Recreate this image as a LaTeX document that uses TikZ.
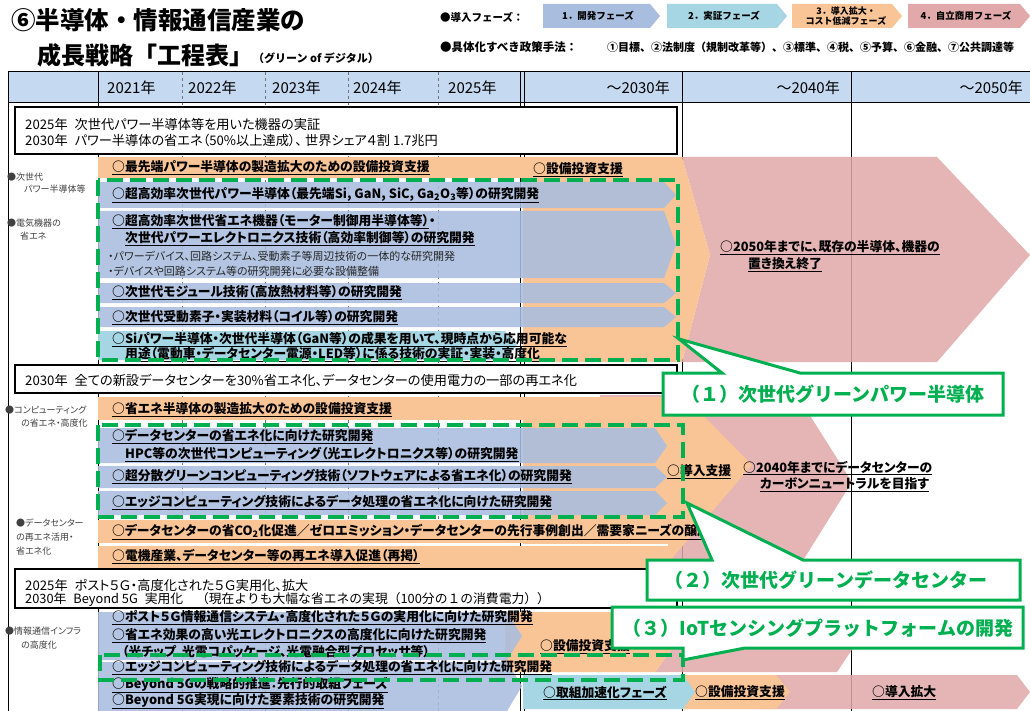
\documentclass[tikz,border=0pt]{standalone}
\usepackage{fontspec}
\setmainfont{Noto Sans CJK JP}[RawFeature=+palt]
\newfontfamily\jpf{Noto Sans CJK JP}
\definecolor{hdr}{HTML}{C5D9F1}
\definecolor{pblue}{HTML}{A9BEDF}
\definecolor{pcyan}{HTML}{A6D6E3}
\definecolor{porange}{HTML}{F9C496}
\definecolor{ppink}{HTML}{E1A9A9}
\definecolor{grn}{HTML}{00B050}
\newcommand{\myul}[1]{\underline{#1}}
\newcommand{\gap}{\hspace{7pt}}
\tikzset{
 rt/.style={anchor=west, inner sep=0, font=\fontsize{12.8}{14}\selectfont\bfseries},
 st/.style={anchor=west, inner sep=0, font=\fontsize{11}{13}\selectfont, text=black!85},
 bt/.style={anchor=west, inner sep=0, font=\fontsize{13.2}{15}\selectfont},
 lb/.style={anchor=west, inner sep=0, font=\fontsize{9}{10}\selectfont, text=black!75},
 hy/.style={inner sep=0, font=\fontsize{15}{17}\selectfont},
 gd/.style={draw=grn, line width=4pt, dash pattern=on 16pt off 7pt},
 tbox/.style={fill=white, draw=black, line width=1.6pt},
 co/.style={fill=white, draw=grn, line width=3pt, line join=miter},
 ct/.style={inner sep=0, font=\jpf\fontsize{19}{21}\selectfont\bfseries, text=grn},
 ph/.style={inner sep=0, font=\jpf\fontsize{9.5}{10.5}\selectfont\bfseries, align=center},
 lgt/.style={anchor=west, inner sep=0, font=\jpf\fontsize{10.5}{12}\selectfont\bfseries},
 bluebar/.style={fill=pblue, fill opacity=0.88},
}
\begin{document}
\begin{tikzpicture}[x=1pt,y=-1pt]
\useasboundingbox (0,0) rectangle (1030,711);
\fill[white] (0,0) rectangle (1030,711);

% ---------------- title
\node[anchor=west,inner sep=0,font=\jpf\fontsize{24.5}{26}\selectfont\bfseries] (title1) at (11,20) {⑥半導体・情報通信産業の};
\node[anchor=west,inner sep=0,font=\jpf\fontsize{24}{26}\selectfont\bfseries] (title2) at (37,55) {成長戦略「工程表」};
\node[anchor=west,inner sep=0,font=\jpf\fontsize{11}{12}\selectfont\bfseries] (title3) at (253,58) {（グリーン of デジタル）};

% ---------------- legend
\node[lgt] (lg1) at (440,17) {●導入フェーズ：};
\fill[pblue] (543,4) -- (650,4) -- (660,16) -- (650,28) -- (543,28) -- cycle;
\node[ph] (ph1) at (598,16) {1．開発フェーズ};
\fill[pcyan] (667,4) -- (777,4) -- (787,16) -- (777,28) -- (667,28) -- cycle;
\node[ph] (ph2) at (724,16) {2．実証フェーズ};
\fill[porange] (792,4) -- (892,4) -- (902,16) -- (892,28) -- (792,28) -- cycle;
\node[ph,font=\jpf\fontsize{9}{10}\selectfont\bfseries] (ph3) at (846,16) {3．導入拡大・\\コスト低減フェーズ};
\fill[ppink] (908,4) -- (1020,4) -- (1030,16) -- (1020,28) -- (908,28) -- cycle;
\node[ph] (ph4) at (966,16) {4．自立商用フェーズ};
\node[lgt,font=\jpf\fontsize{11.5}{12}\selectfont\bfseries] (lg2) at (440,47) {●具体化すべき政策手法：};
\node[lgt,font=\jpf\fontsize{11}{12}\selectfont\bfseries] (lg3) at (607,47) {①目標、②法制度（規制改革等）、③標準、④税、⑤予算、⑥金融、⑦公共調達等};

% ---------------- table grid
\fill[hdr] (8,72) rectangle (1030,103);
\foreach \x in {182,265,348,438} \draw[black!55, dashed, line width=0.6pt] (\x,72) -- (\x,711);
\draw[line width=1pt] (8,711) -- (8,72) -- (1030,72);
\draw[line width=1pt] (8,103) -- (1030,103);
\draw[line width=1pt] (98,72) -- (98,711);
\draw[line width=0.8pt] (520,72) -- (520,711);
\draw[line width=0.8pt] (524,72) -- (524,711);
\draw[line width=1pt] (682,72) -- (682,711);
\draw[line width=1pt] (851,72) -- (851,711);
\node[hy,anchor=west] (y21) at (107,88) {2021年};
\node[hy,anchor=west] (y22) at (188,88) {2022年};
\node[hy,anchor=west] (y23) at (272,88) {2023年};
\node[hy,anchor=west] (y24) at (353,88) {2024年};
\node[hy,anchor=west] (y25) at (448,88) {2025年};
\node[hy,anchor=east] (y30) at (670,88) {～2030年};
\node[hy,anchor=east] (y40) at (840,88) {～2040年};
\node[hy,anchor=east] (y50) at (1023,88) {～2050年};

% ---------------- section 1 shapes
\fill[ppink, fill opacity=0.85] (682,157) -- (937,157) -- (1030,255) -- (937,362) -- (682,362) -- (710,255) -- cycle;
\fill[porange] (98,157) rectangle (523,178);
\fill[porange] (523,157) -- (682,157) -- (710,255) -- (682,362) -- (523,362) -- cycle;
\fill[bluebar] (98,182) -- (664,182) -- (676,195) -- (664,208) -- (98,208) -- cycle;
\fill[bluebar] (98,211) -- (664,211) -- (676,245) -- (664,278) -- (98,278) -- cycle;
\fill[bluebar] (98,283) -- (664,283) -- (676,293) -- (664,303) -- (98,303) -- cycle;
\fill[bluebar] (98,307) -- (664,307) -- (676,317) -- (664,327) -- (98,327) -- cycle;
\fill[pcyan] (98,331) -- (505,331) -- (517,345) -- (505,360) -- (98,360) -- cycle;

% ---------------- section 2 shapes
\fill[ppink, fill opacity=0.85] (682,395) -- (797,395) -- (852,482) -- (797,570) -- (600,570) -- (600,395) -- cycle;
\fill[porange] (98,397) rectangle (523,420);
\fill[porange] (523,397) -- (685,397) -- (752,465) -- (662,570) -- (523,570) -- cycle;
\fill[porange] (98,520) rectangle (523,543);
\fill[porange] (98,546) rectangle (523,568);
\draw[white, line width=2pt] (523,544.5) -- (668,544.5);
\fill[bluebar] (98,428) -- (655,428) -- (667,446) -- (655,463) -- (98,463) -- cycle;
\fill[bluebar] (98,466) -- (655,466) -- (667,477) -- (655,488) -- (98,488) -- cycle;
\fill[bluebar] (98,491) -- (655,491) -- (667,503) -- (655,515) -- (98,515) -- cycle;

% ---------------- section 3 shapes
\fill[ppink, fill opacity=0.85] (655,612) -- (837,612) -- (857,642) -- (837,672) -- (655,672) -- (677,642) -- cycle;
\fill[porange] (505,612) -- (655,612) -- (677,642) -- (655,672) -- (505,672) -- cycle;
\fill[ppink, fill opacity=0.85] (760,675) -- (1017,675) -- (1030,692) -- (1017,709) -- (760,709) -- cycle;
\fill[porange] (683,675) -- (776,675) -- (790,692) -- (776,709) -- (683,709) -- cycle;
\fill[pcyan] (523,675) -- (683,675) -- (695,692) -- (683,709) -- (523,709) -- cycle;
\fill[bluebar] (98,612) -- (507,612) -- (522,636) -- (507,660) -- (98,660) -- cycle;
\fill[bluebar] (98,662) -- (507,662) -- (522,686) -- (507,711) -- (98,711) -- cycle;

% ---------------- left labels
\node[lb] (l1a) at (7,177) {●次世代};
\node[lb] (l1b) at (24,189) {パワー半導体等};
\node[lb] (l2a) at (7,223) {●電気機器の};
\node[lb] (l2b) at (20,236) {省エネ};
\node[lb] (l3a) at (5,410) {●コンピューティング};
\node[lb] (l3b) at (21,423) {の省エネ・高度化};
\node[lb] (l4a) at (16,523) {●データセンター};
\node[lb] (l4b) at (16,537) {の再エネ活用・};
\node[lb] (l4c) at (16,551) {省エネ化};
\node[lb] (l5a) at (5,631) {●情報通信インフラ};
\node[lb] (l5b) at (21,645) {の高度化};

% ---------------- section 1 texts
\node[rt] (r1) at (112,168) {\myul{○最先端パワー半導体の製造拡大のための設備投資支援}};
\node[rt] (r1b) at (533,170) {\myul{○設備投資支援}};
\node[rt] (rA) at (112,195) {\myul{○超高効率次世代パワー半導体（最先端Si, GaN, SiC, Ga\textsubscript{2}O\textsubscript{3}等）の研究開発}};
\node[rt] (rB1) at (112,222) {\myul{○超高効率次世代省エネ機器（モーター制御用半導体等）}・};
\node[rt] (rB2) at (125,239) {\myul{次世代パワーエレクトロニクス技術（高効率制御等）の研究開発}};
\node[st] (rB3) at (108,256) {・パワーデバイス、回路システム、受動素子等周辺技術の一体的な研究開発};
\node[st] (rB4) at (108,271) {・デバイスや回路システム等の研究開発に必要な設備整備};
\node[rt] (rC) at (112,293) {\myul{○次世代モジュール技術（高放熱材料等）の研究開発}};
\node[rt] (rD) at (112,318) {\myul{○次世代受動素子・実装材料（コイル等）の研究開発}};
\node[rt] (rE1) at (112,340) {\myul{○Siパワー半導体・次世代半導体（GaN等）の成果を用いて、現時点から応用可能な}};
\node[rt] (rE2) at (125,355) {\myul{用途（電動車・データセンター電源・LED等）に係る技術の実証・実装・高度化}};
\node[rt,anchor=west] (p1a) at (720,248) {\myul{○2050年までに、既存の半導体、機器の}};
\node[rt,anchor=west] (p1b) at (748,265) {\myul{置き換え終了}};

% ---------------- section 2 texts
\node[rt] (s1) at (112,410) {\myul{○省エネ半導体の製造拡大のための設備投資支援}};
\node[rt] (sF1) at (112,437) {\myul{○データセンターの省エネ化に向けた研究開発}};
\node[rt] (sF2) at (125,455) {\myul{HPC等の次世代コンピューティング（光エレクトロニクス等）の研究開発}};
\node[rt] (sG) at (112,477) {\myul{○超分散グリーンコンピューティング技術（ソフトウェアによる省エネ化）の研究開発}};
\node[rt] (sH) at (112,503) {\myul{○エッジコンピューティング技術によるデータ処理の省エネ化に向けた研究開発}};
\node[rt] (sI) at (112,532) {\myul{○データセンターの省CO\textsubscript{2}化促進／ゼロエミッション・データセンターの先行事例創出／需要家ニーズの醸成}};
\node[rt] (sJ) at (112,557) {\myul{○電機産業、データセンター等の再エネ導入促進（再掲）}};
\node[rt] (s2a) at (667,472) {\myul{○導入支援}};
\node[rt] (s2b) at (743,468) {\myul{○2040年までにデータセンターの}};
\node[rt] (s2c) at (760,485) {\myul{カーボンニュートラルを目指す}};

% ---------------- section 3 texts
\node[rt] (u1) at (112,618) {\myul{○ポスト５Ｇ情報通信システム・高度化された５Ｇの実用化に向けた研究開発}};
\node[rt] (u2) at (112,636) {\myul{○省エネ効果の高い光エレクトロニクスの高度化に向けた研究開発}};
\node[rt] (u3) at (122,652) {（光チップ、光電コパッケージ、光電融合型プロセッサ等）};
\node[rt] (u4) at (112,668) {\myul{○エッジコンピューティング技術によるデータ処理の省エネ化に向けた研究開発}};
\node[rt] (u5) at (112,685) {\myul{○Beyond 5Gの戦略的推進：先行的取組フェーズ}};
\node[rt] (u6) at (112,701) {\myul{○Beyond 5G実現に向けた要素技術の研究開発}};
\node[rt] (u7) at (540,647) {\myul{○設備投資支援}};
\node[rt] (u8) at (543,693) {\myul{○取組加速化フェーズ}};
\node[rt] (u9) at (695,693) {\myul{○設備投資支援}};
\node[rt] (u10) at (872,693) {\myul{○導入拡大}};

% ---------------- green dashed frames
\draw[gd] (98,180) rectangle (678,360);
\draw[gd] (98,425) rectangle (683,517);
\draw[gd] (100,655) rectangle (683,680);

% ---------------- target boxes
\draw[tbox] (15,107) rectangle (677,154);
\node[bt] (b1a) at (25,124) {2025年\gap 次世代パワー半導体等を用いた機器の実証};
\node[bt] (b1b) at (25,140) {2030年\gap パワー半導体の省エネ（50\%以上達成）、 世界シェア４割 1.7兆円};
\draw[tbox] (15,365) rectangle (677,393);
\node[bt] (b2) at (25,380) {2030年\gap 全ての新設データセンターを30\%省エネ化、データセンターの使用電力の一部の再エネ化};
\draw[tbox] (15,569) rectangle (677,608);
\node[bt] (b3a) at (25,585) {2025年\gap ポスト５Ｇ・高度化された５Ｇ実用化、拡大};
\node[bt,font=\jpf\fontsize{12.8}{15}\selectfont] (b3b) at (25,600) {2030年\gap Beyond 5G\gap 実用化　（現在よりも大幅な省エネの実現（100分の１の消費電力））};

% ---------------- callouts
\draw[co] (663,373) -- (722,373) -- (679,339) -- (800,373) -- (1003,373) -- (1003,415) -- (663,415) -- cycle;
\node[ct] (c1) at (833,394) {（１）次世代グリーンパワー半導体};
\draw[co] (647,560) -- (712,560) -- (687,503) -- (803,560) -- (1020,560) -- (1020,600) -- (647,600) -- cycle;
\node[ct] (c2) at (826,580) {（２）次世代グリーンデータセンター};
\draw[co] (612,607) -- (1023,607) -- (1023,648) -- (745,648) -- (683,660) -- (683,648) -- (612,648) -- cycle;
\node[ct] (c3) at (818,628) {（３）IoTセンシングプラットフォームの開発};
\end{tikzpicture}
\end{document}
